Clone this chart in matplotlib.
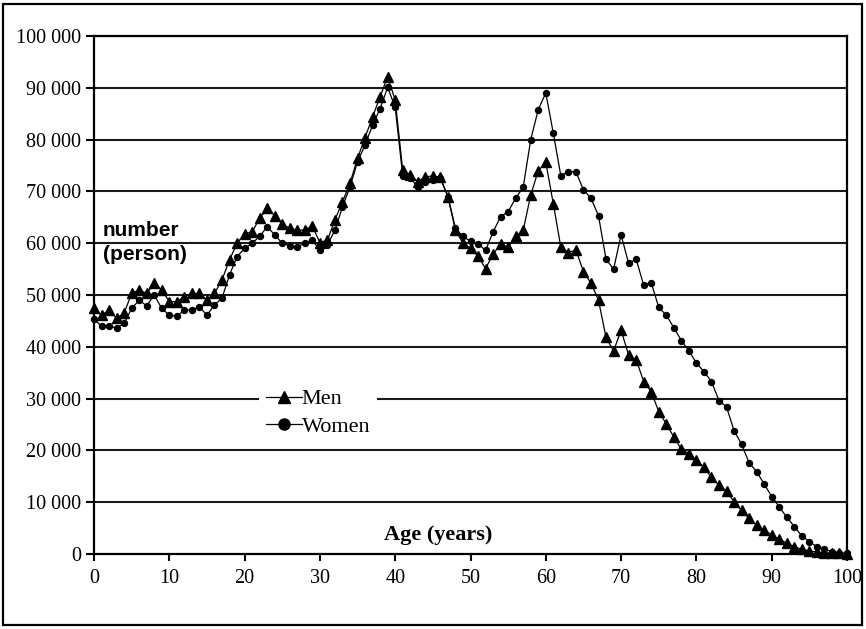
"""Population by single year of age, men vs women (0-100 years)."""

import matplotlib
matplotlib.use("Agg")
import matplotlib.pyplot as plt
from matplotlib.lines import Line2D
from matplotlib.patches import Rectangle
import numpy as np


ages = list(range(0, 101))

# persons
men = [
    47400, 46100, 47100, 45500, 46500, 50300, 51000, 50300, 52300, 51000,
    48700, 48700, 49700, 50300, 50300, 49000, 50300, 52900, 56800, 60000,
    61800, 62200, 64800, 66700, 65300, 63700, 62900, 62500, 62600, 63300,
    60100, 60600, 64500, 68000, 71600, 76400, 80400, 84400, 88300, 92100,
    87600, 74100, 73200, 71900, 72800, 73000, 72700, 69000, 62500, 60000,
    59000, 57500, 55100, 57900, 59800, 59200, 61300, 62500, 69300, 74000,
    75600, 67600, 59200, 58200, 58700, 54500, 52300, 49000, 41800, 39200,
    43200, 38400, 37500, 33300, 31300, 27500, 25100, 22600, 20200, 19400,
    18100, 16700, 14800, 13300, 12200, 10100, 8400, 6900, 5600, 4600,
    3700, 2800, 2100, 1400, 900, 600, 400, 250, 150, 100, 50,
]
women = [
    45300, 44000, 44000, 43600, 44500, 47400, 49000, 47900, 50000, 47400,
    46100, 45900, 47100, 47100, 47700, 46100, 48100, 49400, 53900, 57400,
    59000, 60000, 61300, 63200, 61600, 60000, 59500, 59300, 60000, 60600,
    58600, 59700, 62500, 67000, 70900, 75700, 79000, 82800, 86000, 90100,
    86200, 73000, 72500, 70900, 71900, 72200, 72500, 69000, 62900, 61300,
    60400, 59900, 58600, 62200, 65100, 66100, 68700, 70800, 80000, 85800,
    89000, 81200, 73000, 73800, 73800, 70300, 68700, 65300, 56900, 55000,
    61600, 56100, 56900, 51900, 52400, 47600, 46100, 43700, 41200, 39200,
    36900, 35200, 33300, 29600, 28400, 23800, 21200, 17600, 15900, 13500,
    11100, 9100, 7100, 5300, 3500, 2400, 1400, 900, 450, 250, 100,
]

x_ticks = list(range(0, 101, 10))
y_ticks = list(range(0, 100001, 10000))

SERIF = "Liberation Serif"
SANS = "Liberation Sans"

fig = plt.figure(figsize=(8.66, 6.29), dpi=100)
ax = fig.add_axes([94 / 866, 75 / 629, 753 / 866, 518 / 629])

# outer frame round the whole picture
fig.patches.append(Rectangle((3 / 866, 4 / 629), 859 / 866, 621 / 629,
                             transform=fig.transFigure, fill=False,
                             edgecolor="black", linewidth=1.6))

for yv in y_ticks[1:]:
    ax.axhline(yv, color="#1a1a1a", linewidth=1.5, zorder=1)

ax.plot(ages, men, color="black", linewidth=0.9, marker="^",
        markersize=6.5, clip_on=False, zorder=3)
ax.plot(ages, women, color="black", linewidth=0.9, marker="o",
        markersize=4.3, clip_on=False, zorder=3)

ax.set_xlim(0, 100)
ax.set_ylim(0, 100000)
ax.set_xticks(x_ticks)
ax.set_yticks(y_ticks)
ax.set_yticklabels([f"{v:,}".replace(",", " ") for v in y_ticks])
for lab in ax.get_xticklabels() + ax.get_yticklabels():
    lab.set_fontfamily(SERIF)
    lab.set_fontsize(14.5)
ax.tick_params(axis="y", direction="out", length=6, width=1.5, pad=3)
ax.tick_params(axis="x", direction="out", length=5, width=1.5, pad=6)

for side in ["left", "bottom", "right", "top"]:
    ax.spines[side].set_linewidth(1.6)
    ax.spines[side].set_color("black")

ax.text(1.2, 64200, "number\n(person)", fontfamily=SANS, fontweight="bold",
        fontsize=15, va="top", ha="left", linespacing=1.3)
ax.text(45.7, 3700, "Age (years)", fontfamily=SERIF, fontweight="bold",
        fontsize=16, ha="center", va="center")

handles = [
    Line2D([], [], color="black", linewidth=0.9, marker="^", markersize=9),
    Line2D([], [], color="black", linewidth=0.9, marker="o", markersize=8),
]
leg = ax.legend(handles, ["Men", "Women"], loc="upper left",
                bbox_to_anchor=(0.205, 0.353), frameon=True, fancybox=False,
                framealpha=1, edgecolor="white", handlelength=1.6,
                handletextpad=0.0, labelspacing=0.3, borderpad=0.3,
                prop={"family": SERIF, "size": 16})
leg.get_frame().set_linewidth(0)

fig.savefig("out.png", dpi=100)
